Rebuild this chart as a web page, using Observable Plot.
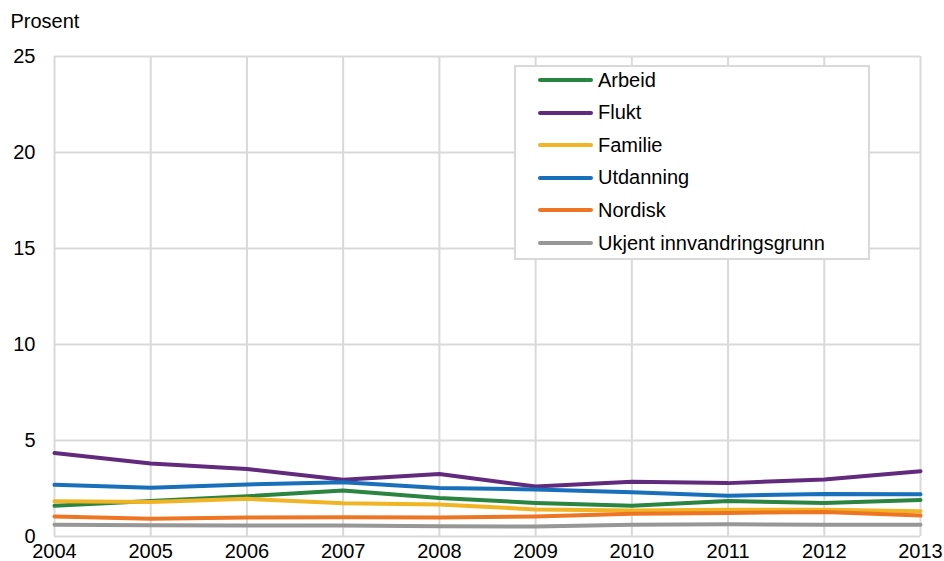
<!DOCTYPE html>
<html>
<head>
<meta charset="utf-8">
<script src="https://cdn.jsdelivr.net/npm/d3@7"></script>
<script src="https://cdn.jsdelivr.net/npm/@observablehq/plot@0.6"></script>
<style>
  html, body { margin: 0; padding: 0; background: #fff; }
  #wrap { position: relative; width: 944px; height: 561px; font-family: "Liberation Sans", Arial, sans-serif; }
  #legend { position: absolute; left: 514px; top: 65px; width: 352px; height: 191px; border: 2px solid #d9d9d9; background: #fff; box-sizing: content-box; }
  .item { position: absolute; left: 22px; display: flex; align-items: center; font-size: 20px; color: #000; height: 24px; }
  .sw { width: 55px; height: 4px; border-radius: 2px; margin-right: 5px; }
</style>
</head>
<body>
<div id="wrap"></div>
<script>
const years = [2004, 2005, 2006, 2007, 2008, 2009, 2010, 2011, 2012, 2013];
const seriesNames = ["Arbeid", "Flukt", "Familie", "Utdanning", "Nordisk", "Ukjent innvandringsgrunn"];
const seriesColors = ["#2a8541", "#622a7d", "#f0b424", "#1770b9", "#ee7623", "#979797"];
const arbeid    = [1.6, 1.85, 2.1, 2.4, 2.0, 1.75, 1.6, 1.85, 1.75, 1.9];
const flukt     = [4.35, 3.8, 3.52, 2.95, 3.25, 2.6, 2.85, 2.78, 2.97, 3.4];
const familie   = [1.84, 1.8, 1.96, 1.73, 1.67, 1.41, 1.35, 1.39, 1.39, 1.32];
const utdanning = [2.69, 2.54, 2.71, 2.83, 2.52, 2.45, 2.3, 2.12, 2.22, 2.2];
const nordisk   = [1.04, 0.93, 0.99, 1.0, 0.99, 1.04, 1.18, 1.23, 1.28, 1.09];
const ukjent    = [0.61, 0.59, 0.57, 0.57, 0.54, 0.52, 0.61, 0.64, 0.61, 0.61];
const yTicks = [0, 5, 10, 15, 20, 25];
const yLabel = "Prosent";

const seriesValues = [arbeid, flukt, familie, utdanning, nordisk, ukjent];
const data = [];
seriesNames.forEach((name, i) => {
  years.forEach((yr, j) => data.push({ series: name, year: yr, value: seriesValues[i][j] }));
});

const chart = Plot.plot({
  width: 944,
  height: 561,
  marginLeft: 54,
  marginRight: 24,
  marginTop: 56,
  marginBottom: 25,
  style: { fontFamily: "Liberation Sans, Arial, sans-serif", fontSize: "20px", color: "#000", background: "#fff", overflow: "visible" },
  x: { domain: [2004, 2013] },
  y: { domain: [0, 25] },
  color: { domain: seriesNames, range: seriesColors },
  marks: [
    Plot.ruleY(yTicks, { stroke: "#d9d9d9", strokeWidth: 2 }),
    Plot.ruleX(years, { stroke: "#d9d9d9", strokeWidth: 2 }),
    Plot.axisX({ ticks: years, tickFormat: d => String(d), tickSize: 0, tickPadding: 7, label: null, fontSize: 20 }),
    Plot.axisY({ ticks: yTicks, tickSize: 0, tickPadding: 19, label: null, fontSize: 20 }),
    Plot.text([yLabel], { frameAnchor: "top-left", textAnchor: "start", lineAnchor: "middle", dx: -44, dy: -35, fontSize: 20, fill: "#000" }),
    Plot.line(data, { x: "year", y: "value", z: "series", stroke: "series", strokeWidth: 4, strokeLinecap: "round", strokeLinejoin: "round" })
  ]
});
const wrap = document.getElementById("wrap");
wrap.appendChild(chart);

const legend = document.createElement("div");
legend.id = "legend";
seriesNames.forEach((name, i) => {
  const it = document.createElement("div");
  it.className = "item";
  it.style.top = (1 + i * 32.6) + "px";
  const sw = document.createElement("span");
  sw.className = "sw";
  sw.style.background = seriesColors[i];
  const tx = document.createElement("span");
  tx.textContent = name;
  it.appendChild(sw);
  it.appendChild(tx);
  legend.appendChild(it);
});
wrap.appendChild(legend);
</script>
</body>
</html>
